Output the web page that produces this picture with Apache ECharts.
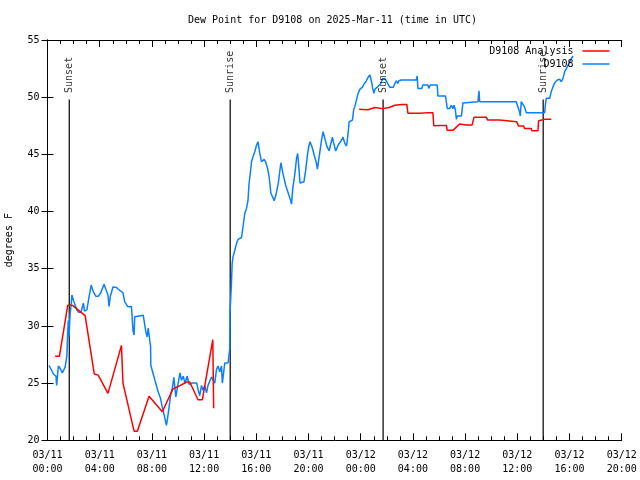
<!DOCTYPE html>
<html><head><meta charset="utf-8">
<script src="https://cdn.jsdelivr.net/npm/echarts@6/dist/echarts.min.js"></script>
<style>html,body{margin:0;padding:0;background:#fff}#c{width:640px;height:480px}</style>
</head><body><div id="c"></div>
<script>
// time = minutes since 03/11 00:00 UTC
const titleText = 'Dew Point for D9108 on 2025-Mar-11 (time in UTC)';
const yName = 'degrees F';
const obsName = 'D9108';
const anaName = 'D9108 Analysis';

const blueT = [7,19,27,39,42,50,58,68,81,89,93,96,99,104,108,112,119,135,142,154,165,170,181,191,201,211,222,234,
245,260,271,278,283,289,301,317,332,347,355,370,386,393,398,401,409,440,447,452,458,463,467,474,475,486,498,509,520,529,540,547,555,566,575,581,590,598,609,616,624,632,642,651,663,686,693,
700,708,715,723,731,738,754,769,777,784,792,800,804,815,830,838,839,846,849,853,861,869,876,892,899,907,915,922,926,933,938,945,953,961,968,976,984,996,1003,1012,1019,1027,1038,1042,1050,1061,1073,1084,1095,1107,1115,1122,1127,1138,1145,1150,1156,1161,
1179,1187,1195,1201,1207,1216,1226,1237,1241,1249,1260,1267,1275,1285,1295,1301,1310,1316,1325,1336,1347,1359,1367,1375,1382,1387,1393,1402,1408,1413,1421,1428,1436,1449,1455,1464,1474,1482,1490,1495,1501,1505,1513,1531,1541,1551,1574,1590,1597,1605,1610,1616,
1626,1695,1700,1703,1721,1726,1749,1753,1760,1792,1795,1803,1830,1838,1849,1857,1864,1869,1875,1880,1884,1903,1910,1918,1979,1984,1987,
2155,2163,2170,2174,2178,2186,2193,2201,2286,2289,2293,2309,2316,2324,2332,2344,2355,2362,2370,2378,2386,2396,2409,2416];
const blueV = [26.56,26.1,25.8,25.6,24.8,26.5,26.3,25.9,26.4,27.35,29.6,30.5,29.05,31.1,31.7,32.7,32.25,31.4,31.2,31.2,32.0,31.3,31.4,32.54,33.56,32.98,32.6,32.6,
32.9,33.65,33.06,32.7,31.7,32.6,33.4,33.36,33.1,32.9,32.1,31.67,31.7,29.6,29.2,30.8,30.8,30.94,30.9,29.5,29.04,29.8,29.2,28.2,26.56,25.8,24.96,24.23,23.65,22.8,21.9,21.3,22.33,23.9,24.7,25.5,23.8,24.7,25.9,25.25,25.6,25.0,25.6,24.9,25.0,25.0,24.37,
23.9,24.8,24.37,24.8,24.14,24.8,25.54,25.0,26.2,26.5,26.0,26.5,25.0,26.76,26.76,28.0,31.1,33.85,35.46,36.04,36.6,37.2,37.56,37.73,38.67,39.83,40.27,41.0,42.3,43.48,44.35,44.8,45.23,45.8,46.1,45.08,44.35,44.56,44.35,43.77,43.04,41.6,41.15,40.94,41.44,42.46,44.27,43.19,42.3,41.6,41.15,40.65,41.9,43.4,44.65,45.08,43.77,42.5,
42.6,43.6,44.94,45.67,46.1,45.67,44.94,44.2,43.7,44.8,46.25,46.98,46.4,45.67,45.3,45.8,46.5,45.96,45.3,45.8,46.1,46.5,45.96,45.73,46.84,47.85,47.7,48.0,48.94,49.17,49.8,50.33,50.68,50.9,51.15,51.35,51.73,51.94,51.35,50.77,50.33,50.68,50.68,51.15,51.64,51.64,50.86,50.86,51.2,51.44,51.2,51.44,
51.5,51.5,51.85,50.77,50.77,51.06,51.06,50.77,51.06,51.06,50.1,50.1,50.1,49.0,49.0,49.3,49.0,49.3,48.9,48.06,48.35,48.35,49.5,49.6,49.6,50.56,49.6,
49.6,49.46,48.73,48.35,49.6,49.6,49.17,48.65,48.65,49.3,49.9,49.9,50.48,50.9,51.27,51.5,51.56,51.35,51.64,52.23,52.52,52.9,53.4,53.6];

const redT = [35,55,93,115,173,181,215,233,278,340,347,398,413,467,528,577,600,640,654,692,712,760,764,
1000,
1433,1474,1505,1541,1571,1597,1629,1652,1657,1715,1749,1772,1776,1807,1834,1838,1864,1869,1895,1926,1952,1961,2018,2023,2078,2083,2157,2166,2190,2193,2224,2227,2255,2258,2286,2316];
const redV = [27.35,27.35,31.8,31.8,30.9,30.9,25.8,25.7,24.1,28.3,25.0,20.8,20.8,23.85,22.5,24.5,24.7,25.1,25.1,23.55,23.55,28.8,22.8,
null,
48.94,48.9,49.1,49.0,49.1,49.3,49.37,49.37,48.6,48.6,48.65,48.65,47.5,47.53,47.53,47.1,47.1,47.2,47.65,47.56,47.56,48.24,48.24,48.0,48.0,47.86,47.86,47.47,47.47,47.27,47.27,47.07,47.07,47.94,48.06,48.06];

const eventNames = ['Sunset','Sunrise','Sunset','Sunrise'];
const eventT = [100, 840, 1543, 2279];
const eventBottom = 20, eventTop = 49.8;

const xMin = 0, xMax = 2640, xStep = 240;
const yMin = 20, yMax = 55, yStep = 5;

const FONT = 'DejaVu Sans Mono';
const pad = n => (n < 10 ? '0' : '') + n;
function xLabel(v) {
  const day = 11 + Math.floor(v / 1440);
  const m = v % 1440;
  return '03/' + pad(day) + '\n' + pad(Math.floor(m / 60)) + ':' + pad(m % 60);
}

const zip = (a, b) => a.map((t, i) => [t, b[i]]);

const eventSeries = eventNames.map((nm, i) => ({
  type: 'line', xAxisIndex: 0, yAxisIndex: 0, silent: true, symbol: 'none',
  lineStyle: { color: '#000', width: 1.2 }, z: 1,
  data: [[eventT[i], eventBottom], [eventT[i], eventTop]]
}));

const eventLabelSeries = {
  type: 'scatter', xAxisIndex: 0, yAxisIndex: 0, silent: true, symbolSize: 1, z: 4,
  itemStyle: { color: 'rgba(0,0,0,0)' },
  label: { show: true, position: 'top', distance: 6, rotate: 90, align: 'left', verticalAlign: 'middle',
    formatter: p => p.data[2], fontFamily: 'DejaVu Sans Mono', fontSize: 10, color: '#000' },
  data: eventNames.map((nm, i) => [eventT[i], eventTop, nm])
};

const axisBase = {
  type: 'value', min: xMin, max: xMax, interval: xStep,
  axisLine: { show: true, lineStyle: { color: '#000', width: 1 } },
  axisTick: { show: true, inside: true, length: 7, lineStyle: { color: '#000' } },
  minorTick: { show: true, splitNumber: 4, length: 4, lineStyle: { color: '#000' } },
  splitLine: { show: false }, minorSplitLine: { show: false }
};
const yBase = {
  type: 'value', min: yMin, max: yMax, interval: yStep,
  axisLine: { show: true, lineStyle: { color: '#000', width: 1 } },
  axisTick: { show: true, inside: true, length: 6, lineStyle: { color: '#000' } },
  splitLine: { show: false }
};

const chart = echarts.init(document.getElementById('c'), null, { renderer: 'canvas' });
chart.setOption({
  animation: false,
  backgroundColor: '#fff',
  title: { text: titleText, left: 188, top: 15, padding: 0,
    textStyle: { fontFamily: FONT, fontSize: 10, fontWeight: 'normal', color: '#000' } },
  grid: { left: 47.5, right: 18.3, top: 40, bottom: 39.7, containLabel: false, outerBoundsMode: 'none' },
  legend: [
    { data: [anaName], orient: 'vertical', right: 30.5, top: 46, padding: 0, align: 'right', icon: 'rect',
      itemWidth: 27, itemHeight: 1.5, selectedMode: false,
      textStyle: { fontFamily: FONT, fontSize: 10, color: '#000', padding: [0, 4, 0, 0] } },
    { data: [obsName], orient: 'vertical', right: 30.5, top: 59, padding: 0, align: 'right', icon: 'rect',
      itemWidth: 27, itemHeight: 1.5, selectedMode: false,
      textStyle: { fontFamily: FONT, fontSize: 10, color: '#000', padding: [0, 4, 0, 0] } }
  ],
  xAxis: [
    Object.assign({}, axisBase, { position: 'bottom',
      axisLabel: { show: true, formatter: xLabel, margin: 8, fontFamily: FONT, fontSize: 10, color: '#000', lineHeight: 14, showMinLabel: true, showMaxLabel: true } }),
    Object.assign({}, axisBase, { position: 'top', axisLabel: { show: false } })
  ],
  yAxis: [
    Object.assign({}, yBase, { position: 'left', name: yName, nameLocation: 'middle', nameGap: 33,
      nameTextStyle: { fontFamily: FONT, fontSize: 10, color: '#000' },
      axisLabel: { show: true, margin: 8, fontFamily: FONT, fontSize: 10, color: '#000' } }),
    Object.assign({}, yBase, { position: 'right', axisLabel: { show: false } })
  ],
  series: [
    ...eventSeries,
    eventLabelSeries,
    { name: anaName, type: 'line', xAxisIndex: 0, yAxisIndex: 0, symbol: 'none', connectNulls: false,
      color: '#ff0000', lineStyle: { color: '#ff0000', width: 1.5 }, z: 3, data: zip(redT, redV) },
    { name: obsName, type: 'line', xAxisIndex: 0, yAxisIndex: 0, symbol: 'none',
      color: '#0a80ff', lineStyle: { color: '#0a80ff', width: 1.5 }, z: 2, data: zip(blueT, blueV) }
  ]
});
</script></body></html>
